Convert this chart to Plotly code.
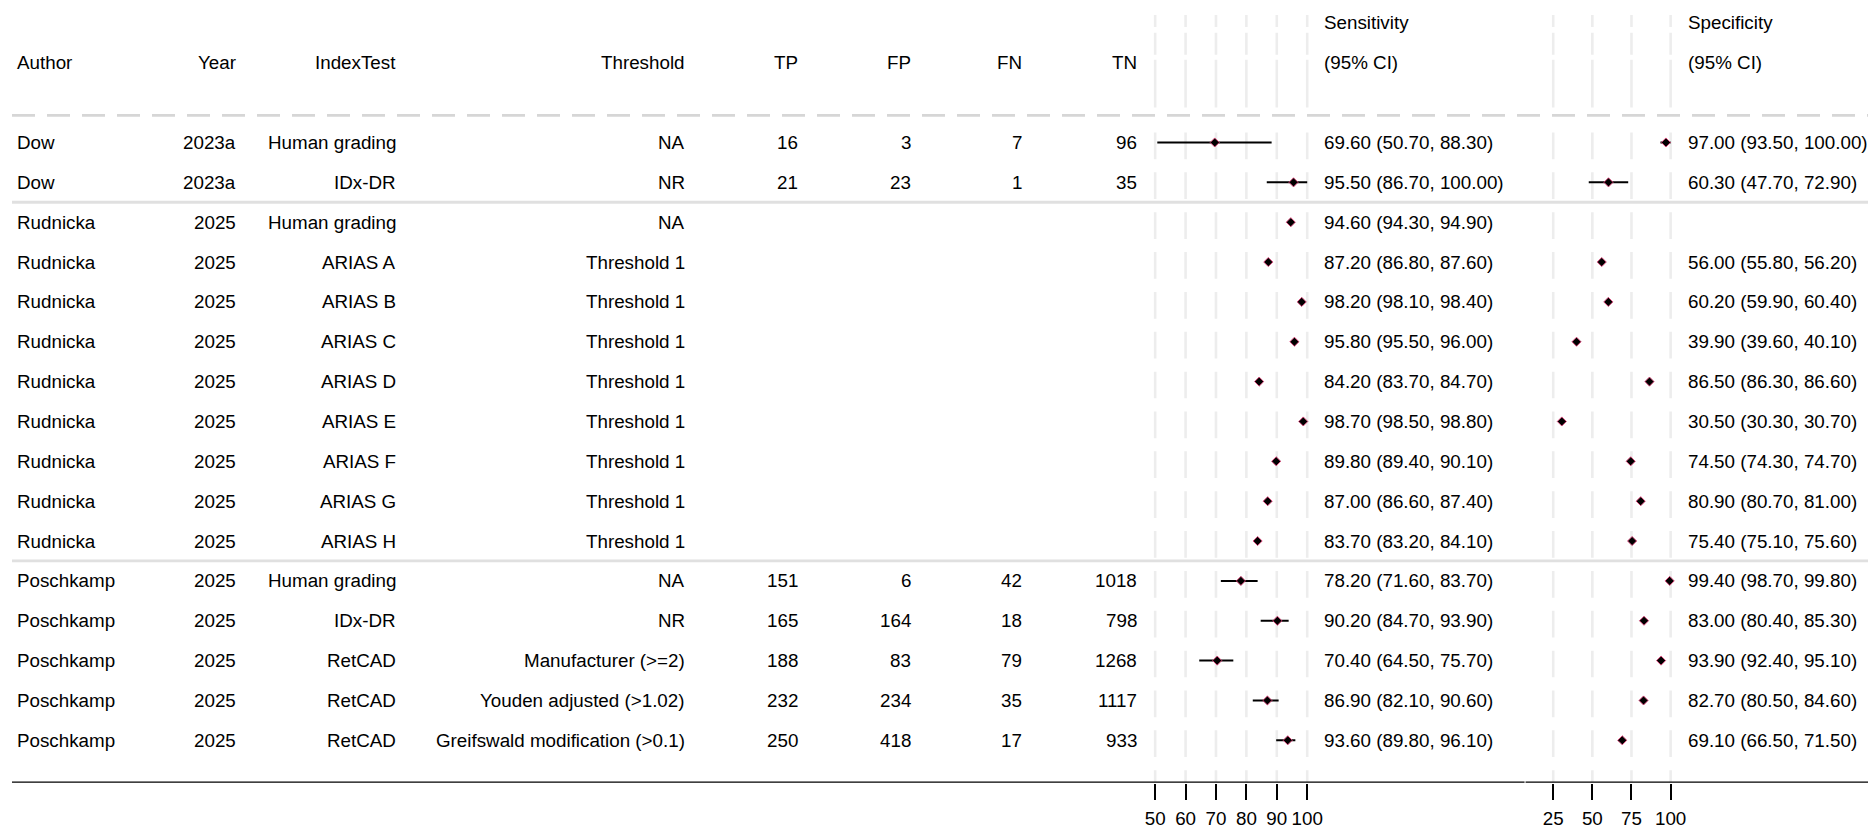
import plotly.graph_objects as go

# ---------------- data ----------------
authors = ["Dow", "Dow"] + ["Rudnicka"] * 9 + ["Poschkamp"] * 5
years = ["2023a", "2023a"] + ["2025"] * 14
index_tests = ["Human grading", "IDx-DR", "Human grading", "ARIAS A", "ARIAS B", "ARIAS C",
               "ARIAS D", "ARIAS E", "ARIAS F", "ARIAS G", "ARIAS H", "Human grading",
               "IDx-DR", "RetCAD", "RetCAD", "RetCAD"]
thresholds = ["NA", "NR", "NA"] + ["Threshold 1"] * 8 + ["NA", "NR", "Manufacturer (>=2)",
              "Youden adjusted (>1.02)", "Greifswald modification (>0.1)"]
tp = ["16", "21"] + [""] * 9 + ["151", "165", "188", "232", "250"]
fp = ["3", "23"] + [""] * 9 + ["6", "164", "83", "234", "418"]
fn = ["7", "1"] + [""] * 9 + ["42", "18", "79", "35", "17"]
tn = ["96", "35"] + [""] * 9 + ["1018", "798", "1268", "1117", "933"]

sens = [69.6, 95.5, 94.6, 87.2, 98.2, 95.8, 84.2, 98.7, 89.8, 87.0, 83.7, 78.2, 90.2, 70.4, 86.9, 93.6]
sens_lo = [50.7, 86.7, 94.3, 86.8, 98.1, 95.5, 83.7, 98.5, 89.4, 86.6, 83.2, 71.6, 84.7, 64.5, 82.1, 89.8]
sens_hi = [88.3, 100.0, 94.9, 87.6, 98.4, 96.0, 84.7, 98.8, 90.1, 87.4, 84.1, 83.7, 93.9, 75.7, 90.6, 96.1]

spec = [97.0, 60.3, None, 56.0, 60.2, 39.9, 86.5, 30.5, 74.5, 80.9, 75.4, 99.4, 83.0, 93.9, 82.7, 69.1]
spec_lo = [93.5, 47.7, None, 55.8, 59.9, 39.6, 86.3, 30.3, 74.3, 80.7, 75.1, 98.7, 80.4, 92.4, 80.5, 66.5]
spec_hi = [100.0, 72.9, None, 56.2, 60.4, 40.1, 86.6, 30.7, 74.7, 81.0, 75.6, 99.8, 85.3, 95.1, 84.6, 71.5]

groups = [0, 0] + [1] * 9 + [2] * 5

sens_ticks = [50, 60, 70, 80, 90, 100]
spec_ticks = [25, 50, 75, 100]

col_headers = ["Author", "Year", "IndexTest", "Threshold", "TP", "FP", "FN", "TN"]

# ---------------- layout geometry ----------------
# The page body has an 8px margin, so the figure is shrunk by 8px and
# all reference-pixel positions are shifted by that offset.
VW, VH = 1876, 829
OFF = 8
W, H = VW - OFF, VH - OFF
ROW1_PX, ROW_H = 143.3, 40.1          # viewport pixels
AXIS_PX = 787.5
FONT = "Liberation Sans, Arial, Helvetica, sans-serif"
FS = 18.8


def px2row(p):
    return 1 + (p - ROW1_PX) / ROW_H


def fx(p):
    return (p - OFF) / W


y_top = px2row(OFF)
y_bot = px2row(AXIS_PX)

# sensitivity axis: 50 -> 1157 px, 3.046 px per unit
S_PX50, S_K = 1157.0, 3.046
S_DOM = (1125.0, 1322.0)
s_range = [50 + (S_DOM[0] - S_PX50) / S_K, 50 + (S_DOM[1] - S_PX50) / S_K]
# specificity axis: 25 -> 1555.7 px, 1.568 px per unit
P_PX25, P_K = 1555.7, 1.568
P_DOM = (1540.0, 1686.0)
p_range = [25 + (P_DOM[0] - P_PX25) / P_K, 25 + (P_DOM[1] - P_PX25) / P_K]

n = len(authors)
rows = list(range(1, n + 1))

fig = go.Figure()

# ---------------- faint vertical reference segments ----------------
seg_rows = []
for p0, p1 in [(15, 27), (33, 55), (60, 108)]:
    seg_rows.append((px2row(p0), px2row(p1)))
for i in range(1, n + 2):
    seg_rows.append((i - 0.25, min(i + 0.42, y_bot)))


def grid_trace(ticks, xa):
    xs, ys = [], []
    for t in ticks:
        for a, b in seg_rows:
            xs += [t, t, None]
            ys += [a, b, None]
    return go.Scatter(x=xs, y=ys, mode="lines", xaxis=xa, yaxis="y",
                      line=dict(color="#EDEDED", width=2.6),
                      hoverinfo="skip", showlegend=False)


fig.add_trace(grid_trace(sens_ticks, "x"))
fig.add_trace(grid_trace(spec_ticks, "x2"))


# ---------------- CI lines and points ----------------
def ci_traces(est, lo, hi, xa):
    xs, ys, px, py = [], [], [], []
    for r, e, l, h in zip(rows, est, lo, hi):
        if e is None:
            continue
        xs += [l, h, None]
        ys += [r, r, None]
        px.append(e)
        py.append(r)
    return [
        go.Scatter(x=xs, y=ys, mode="lines", xaxis=xa, yaxis="y",
                   line=dict(color="black", width=2), hoverinfo="skip", showlegend=False),
        go.Scatter(x=px, y=py, mode="markers", xaxis=xa, yaxis="y",
                   marker=dict(symbol="diamond", size=7, color="black",
                               line=dict(color="#E0457B", width=0.9)),
                   showlegend=False),
    ]


for t in ci_traces(sens, sens_lo, sens_hi, "x"):
    fig.add_trace(t)
for t in ci_traces(spec, spec_lo, spec_hi, "x2"):
    fig.add_trace(t)

# ---------------- table text ----------------
ann = []


def txt(x_px, row, s, anchor):
    ann.append(dict(x=fx(x_px), y=row, xref="paper", yref="y", text=s, showarrow=False,
                    xanchor=anchor, yanchor="middle", borderpad=0,
                    font=dict(family=FONT, size=FS, color="black")))


cols = [
    (authors, 16, "left"),
    (years, 237, "right"),
    (index_tests, 398, "right"),
    (thresholds, 687, "right"),
    (tp, 800, "right"),
    (fp, 913, "right"),
    (fn, 1025, "right"),
    (tn, 1140, "right"),
]
for (data, xp, anc), head in zip(cols, col_headers):
    txt(xp, -1, head, anc)
    for r, v in zip(rows, data):
        if v != "":
            txt(xp, r, v, anc)

SENS_TX, SPEC_TX = 1325, 1690
txt(SENS_TX, -2, "Sensitivity", "left")
txt(SENS_TX, -1, "(95% CI)", "left")
txt(SPEC_TX, -2, "Specificity", "left")
txt(SPEC_TX, -1, "(95% CI)", "left")
for r, e, l, h in zip(rows, sens, sens_lo, sens_hi):
    txt(SENS_TX, r, f"{e:.2f} ({l:.2f}, {h:.2f})", "left")
for r, e, l, h in zip(rows, spec, spec_lo, spec_hi):
    if e is not None:
        txt(SPEC_TX, r, f"{e:.2f} ({l:.2f}, {h:.2f})", "left")

# ---------------- horizontal rules ----------------
shapes = []
shapes.append(dict(type="line", xref="paper", yref="y", x0=fx(12), x1=1,
                   y0=px2row(116), y1=px2row(116),
                   line=dict(color="#D6D6D6", width=2.6, dash="23px,12px")))
for k in range(1, n):
    if groups[k] != groups[k - 1]:
        yy = k + 0.5
        shapes.append(dict(type="line", xref="paper", yref="y", x0=fx(12), x1=1,
                           y0=yy, y1=yy, line=dict(color="#E0E0E0", width=2.8)))
shapes.append(dict(type="line", xref="paper", yref="y", x0=fx(12), x1=fx(1527),
                   y0=y_bot, y1=y_bot, line=dict(color="black", width=2.3)))
shapes.append(dict(type="line", xref="paper", yref="y", x0=fx(1528), x1=1,
                   y0=y_bot, y1=y_bot, line=dict(color="black", width=2.3)))

axis_common = dict(showgrid=False, zeroline=False, showline=False, ticks="outside",
                   ticklen=16, tickwidth=2.3, tickcolor="black", anchor="y",
                   ticklabelstandoff=3,
                   tickfont=dict(family=FONT, size=FS, color="black"), fixedrange=True)

fig.update_layout(
    width=W, height=H,
    margin=dict(l=0, r=0, t=0, b=0, pad=0),
    paper_bgcolor="white", plot_bgcolor="white",
    showlegend=False,
    xaxis=dict(domain=[fx(S_DOM[0]), fx(S_DOM[1])], range=s_range,
               tickvals=sens_ticks, ticktext=[str(t) for t in sens_ticks], **axis_common),
    xaxis2=dict(domain=[fx(P_DOM[0]), fx(P_DOM[1])], range=p_range,
                tickvals=spec_ticks, ticktext=[str(t) for t in spec_ticks], **axis_common),
    yaxis=dict(domain=[1 - (AXIS_PX - OFF) / H, 1], range=[y_bot, y_top], visible=False,
               fixedrange=True),
    annotations=ann,
    shapes=shapes,
)

fig.write_html("out.html")
